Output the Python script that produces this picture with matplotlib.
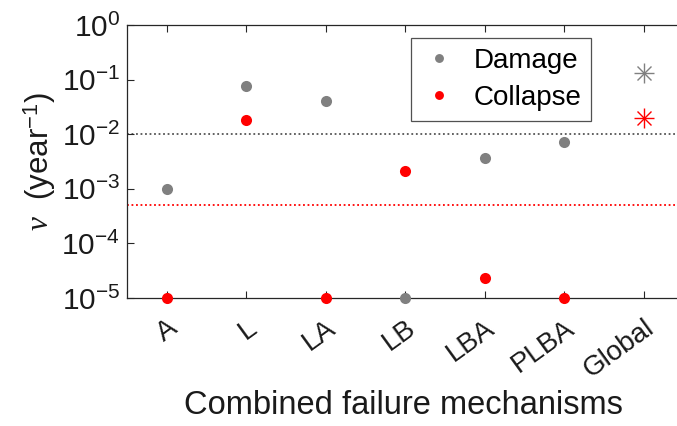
import matplotlib
matplotlib.use("Agg")
import matplotlib.pyplot as plt
import numpy as np

plt.rcParams["font.family"] = ["Liberation Sans", "DejaVu Sans"]
plt.rcParams["mathtext.fontset"] = "custom"
plt.rcParams["mathtext.rm"] = "Liberation Sans"
plt.rcParams["mathtext.it"] = "Liberation Serif:italic"

mechanisms = ["A", "L", "LA", "LB", "LBA", "PLBA"]
damage = [1.0e-3, 7.6e-2, 4.0e-2, 1.0e-5, 3.6e-3, 7.2e-3]
collapse = [1.0e-5, 1.8e-2, 1.0e-5, 2.1e-3, 2.3e-5, 1.0e-5]
global_damage = 1.3e-1
global_collapse = 2.0e-2
damage_limit = 1.0e-2
collapse_limit = 5.0e-4
tick_labels = mechanisms + ["Global"]

fig = plt.figure(figsize=(6.77, 4.26), dpi=100)
ax = fig.add_axes([127 / 677, 1 - 298 / 426, 636 / 677, 273 / 426])

x = np.arange(1, len(mechanisms) + 1)
gx = len(mechanisms) + 1

ax.axhline(damage_limit, color="#555555", ls=(0, (1, 1.5)), lw=1.3, zorder=1)
ax.axhline(collapse_limit, color="red", ls=(0, (1, 1.5)), lw=1.3, zorder=1)

ax.plot(x, damage, "o", color="#808080", ms=8, mec="none", label="Damage", clip_on=False, zorder=3)
ax.plot(x, collapse, "o", color="red", ms=8, mec="none", label="Collapse", clip_on=False, zorder=3)

# asterisks for the global values
for val, col in [(global_damage, "#808080"), (global_collapse, "red")]:
    ax.plot(gx, val, marker="+", color=col, ms=15, mew=1.0, ls="none", clip_on=False)
    ax.plot(gx, val, marker="x", color=col, ms=10.5, mew=1.0, ls="none", clip_on=False)

ax.set_yscale("log")
ax.set_ylim(1e-5, 1)
ax.set_xlim(0.5, 8.5)
ax.set_xticks(np.arange(1, gx + 1))
ax.set_xticklabels(tick_labels, rotation=36, ha="right", rotation_mode="anchor", fontsize=20, color="#1a1a1a")
ax.tick_params(axis="x", which="major", direction="in", length=5, top=True, bottom=True, pad=12, color="#262626")
ax.tick_params(axis="y", which="major", direction="in", length=5, labelsize=21.5, labelcolor="#1a1a1a",
               color="#262626", pad=5)
ax.tick_params(axis="y", which="minor", direction="in", length=2.5, color="#262626")
ax.set_yticks([1e-5, 1e-4, 1e-3, 1e-2, 1e-1, 1])

for side in ["left", "bottom", "top"]:
    ax.spines[side].set_color("#262626")
    ax.spines[side].set_linewidth(0.9)
ax.spines["right"].set_visible(False)

leg = ax.legend(loc="upper left", bbox_to_anchor=(411 / 677, 1 - 38 / 426), bbox_transform=fig.transFigure,
                fontsize=20, frameon=True, fancybox=False, edgecolor="#262626", handletextpad=0.6,
                borderpad=0.35, labelspacing=0.4, handlelength=1.3, markerscale=0.8, borderaxespad=0)
leg.get_frame().set_linewidth(0.9)

fig.text(403 / 677, 1 - 405 / 426, "Combined failure mechanisms", ha="center", va="center", fontsize=23.5,
         color="#1a1a1a")
fig.text(40 / 677, 1 - 162 / 426, r"$\nu$  (year$^{-1}$)", rotation=90, ha="center", va="center",
         fontsize=22.5, color="#1a1a1a")

fig.savefig("out.png", dpi=100)
